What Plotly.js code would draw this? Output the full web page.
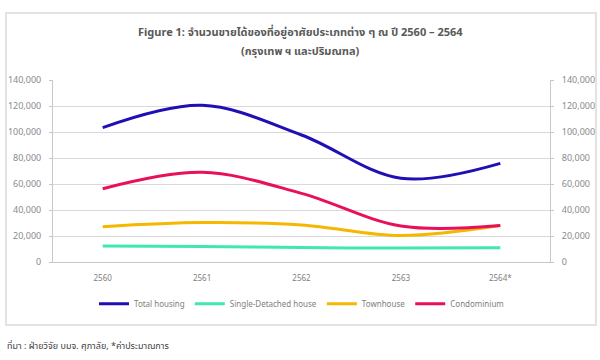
<!DOCTYPE html>
<html>
<head>
<meta charset="utf-8">
<script src="https://cdn.plot.ly/plotly-3.0.1.min.js"></script>
<style>
  html, body { margin: 0; padding: 0; background: #ffffff; }
  #chart { width: 600px; height: 360px; }
  #frame { position: absolute; left: 5px; top: 12px; width: 588px; height: 310px; border: 2px solid #e3e3e3; pointer-events: none; }
</style>
</head>
<body>
<div id="chart"></div>
<div id="frame"></div>
<script>
const years = ["2560", "2561", "2562", "2563", "2564*"];
const totalHousing = [103300, 120500, 97700, 64400, 75900];
const singleDetached = [12300, 11900, 11100, 10700, 11000];
const townhouse = [27200, 30300, 28500, 20300, 28000];
const condominium = [56400, 69000, 52800, 27700, 28000];

const seriesNames = ["Total housing", "Single-Detached house", "Townhouse", "Condominium"];
const seriesColors = ["#1f0fb5", "#3ee8b0", "#f5b700", "#e8105a"];
const seriesValues = [totalHousing, singleDetached, townhouse, condominium];

const titleLine1 = "Figure 1: จำนวนขายได้ของที่อยู่อาศัยประเภทต่าง ๆ ณ ปี 2560 – 2564";
const titleLine2 = "(กรุงเทพ ฯ และปริมณฑล)";
const sourceNote = "ที่มา : ฝ่ายวิจัย บมจ. ศุภาลัย, *ค่าประมาณการ";

const FONT = "Noto Sans, 'Noto Sans Thai', 'Open Sans', sans-serif";

const traces = seriesValues.map((vals, i) => ({
  type: "scatter",
  mode: "lines",
  x: years,
  y: vals,
  name: seriesNames[i],
  line: { color: seriesColors[i], width: 3, shape: "spline", smoothing: 1 },
  hoverinfo: "x+y+name"
}));
// invisible copy so the right-hand axis is drawn
traces.push({
  type: "scatter", mode: "lines", x: years, y: totalHousing, yaxis: "y2",
  line: { color: "rgba(0,0,0,0)", width: 0 }, showlegend: false, hoverinfo: "skip"
});

const py = (pix) => (262 - pix) / 182;
const px = (pix) => (pix - 53) / 497;

const layout = {
  width: 600, height: 360,
  margin: { l: 53, r: 50, t: 80, b: 98 },
  paper_bgcolor: "#ffffff", plot_bgcolor: "#ffffff",
  font: { family: FONT, size: 9, color: "#808080" },
  xaxis: {
    type: "category",
    range: [-0.5, 4.5],
    showgrid: false,
    showline: true, linecolor: "#c8c8c8", linewidth: 1,
    ticks: "", tickfont: { size: 8, color: "#808080" },
    ticklabelstandoff: 8
  },
  yaxis: {
    range: [0, 140000], dtick: 20000, tickformat: ",",
    showgrid: true, gridcolor: "#d9d9d9", gridwidth: 1,
    showline: true, linecolor: "#c8c8c8", linewidth: 1,
    ticks: "outside", ticklen: 3, tickcolor: "#c8c8c8",
    zeroline: false, ticklabelstandoff: 6,
    tickfont: { size: 9, color: "#8a8a8a" }
  },
  yaxis2: {
    overlaying: "y", side: "right",
    range: [0, 140000], dtick: 20000, tickformat: ",",
    showgrid: false, zeroline: false,
    showline: true, linecolor: "#c8c8c8", linewidth: 1,
    ticks: "outside", ticklen: 3, tickcolor: "#c8c8c8",
    ticklabelstandoff: 6,
    tickfont: { size: 9, color: "#8a8a8a" }
  },
  legend: {
    orientation: "h", x: 0.5, xanchor: "center", y: -0.15, yanchor: "top",
    font: { size: 8, color: "#808080" },
    itemwidth: 30, traceorder: "normal"
  },
  annotations: [
    {
      text: "<b>" + titleLine1 + "</b>",
      xref: "paper", yref: "paper", x: px(300), y: py(31),
      xanchor: "center", yanchor: "middle", showarrow: false,
      font: { family: FONT, size: 11, color: "#595959" }
    },
    {
      text: "<b>" + titleLine2 + "</b>",
      xref: "paper", yref: "paper", x: px(300), y: py(51),
      xanchor: "center", yanchor: "middle", showarrow: false,
      font: { family: FONT, size: 11, color: "#595959" }
    },
    {
      text: sourceNote,
      xref: "paper", yref: "paper",
      x: px(5), y: py(345),
      xanchor: "left", yanchor: "middle", showarrow: false,
      font: { family: FONT, size: 9, color: "#404040" }
    }
  ]
};

Plotly.newPlot("chart", traces, layout, { displayModeBar: false, responsive: false });
</script>
</body>
</html>
